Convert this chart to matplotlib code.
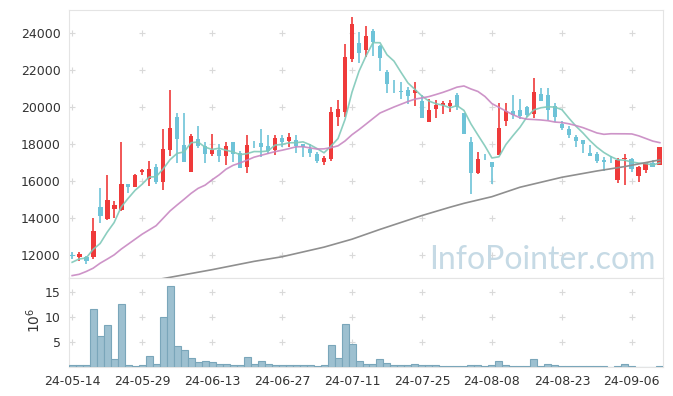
import matplotlib
matplotlib.use("Agg")
import matplotlib.pyplot as plt
import numpy as np
import pandas as pd

# daily prices, 85 trading days from 24-05-14
opens = [12020, 11860, 11890, 11870, 14600, 13960, 14470, 14450, 15840, 15700,
         16460, 16130, 16740, 15960, 17690, 19480, 17950, 16500, 18270, 17910,
         17460, 17680, 17370, 18110, 17500, 16780, 17960, 18040, 17890, 17680,
         18320, 18180, 18220, 18000, 17730, 17460, 17010, 17170, 19480, 19750,
         22590, 23440, 23080, 24110, 23320, 21910, 21200, 20840, 20920, 20740,
         20320, 19210, 19890, 20110, 20070, 20650, 19660, 18110, 16450, 17290,
         17030, 17420, 19260, 19780, 19840, 19980, 19600, 20680, 20650, 20050,
         19080, 18810, 18380, 18220, 17510, 17460, 17140, 17090, 16050, 17170,
         17170, 16290, 16600, 16990, 16860]
highs = [12180, 12160, 11950, 13980, 15600, 16300, 14920, 18100, 15850, 16380,
         16650, 17080, 16920, 18800, 20900, 19700, 19700, 18520, 19000, 18130,
         18520, 17980, 18120, 18110, 17600, 18490, 18160, 18800, 18490, 18490,
         18480, 18600, 18490, 18000, 18000, 17550, 17350, 19980, 20400, 23400,
         24850, 24040, 24400, 24220, 23350, 22000, 21460, 21370, 21100, 21370,
         20650, 20410, 20380, 20300, 20380, 20770, 19660, 18400, 17550, 17460,
         17030, 20230, 20200, 20630, 20420, 20050, 21550, 21010, 21010, 20230,
         19260, 18970, 18490, 18220, 17920, 17550, 17280, 17370, 17230, 17460,
         17230, 16830, 16990, 17120, 17860]
lows = [11800, 11650, 11530, 11780, 13700, 13890, 13980, 14400, 15330, 15690,
        16300, 15750, 15820, 15500, 17350, 16960, 17050, 16500, 17770, 16960,
        17370, 17050, 16860, 17050, 16700, 16420, 17770, 17310, 17460, 17400,
        17860, 17860, 17530, 17310, 17310, 16950, 16860, 17100, 18970, 19480,
        22450, 22360, 22690, 22770, 21960, 20770, 20770, 20410, 20160, 20050,
        19420, 19210, 19390, 19650, 19750, 19840, 18540, 15300, 16380, 17140,
        15840, 17420, 18970, 19330, 19330, 19480, 19390, 20300, 19300, 19210,
        18760, 18310, 17820, 17500, 17370, 16950, 16560, 16990, 15910, 15780,
        16470, 15930, 16450, 16740, 16860]
closes = [11930, 12070, 11650, 13300, 14130, 14970, 14700, 15840, 15650, 16320,
          16600, 16650, 15930, 17730, 18860, 18290, 17050, 18430, 17910, 17460,
          17680, 17370, 17890, 17460, 16720, 17950, 17940, 17860, 17640, 18320,
          18120, 18390, 17890, 17860, 17530, 17100, 17240, 19710, 19890, 22690,
          24490, 22900, 23840, 23500, 22670, 21230, 21180, 20820, 20610, 20920,
          19420, 19840, 20110, 20200, 20220, 20020, 18540, 16450, 17190, 17270,
          16770, 18860, 19780, 19570, 19530, 19570, 20790, 20340, 19840, 19440,
          18880, 18500, 18180, 18000, 17370, 17100, 17050, 17070, 17140, 17240,
          16630, 16740, 16960, 16740, 17860]
# volume in millions of shares
volumes = [0.5, 0.5, 0.33, 11.7, 6.3, 8.5, 1.7, 12.7, 0.5, 0.3,
           0.5, 2.3, 0.7, 10.1, 16.2, 4.3, 3.5, 1.9, 1.0, 1.2,
           1.0, 0.6, 0.7, 0.5, 0.5, 2.1, 0.7, 1.2, 0.7, 0.5,
           0.4, 0.5, 0.5, 0.35, 0.35, 0.2, 0.35, 4.5, 1.9, 8.6,
           4.6, 1.2, 0.7, 0.7, 1.7, 0.9, 0.35, 0.35, 0.5, 0.7,
           0.35, 0.35, 0.35, 0.15, 0.15, 0.15, 0.15, 0.5, 0.35, 0.15,
           0.5, 1.2, 0.35, 0.15, 0.15, 0.15, 1.6, 0.15, 0.7, 0.35,
           0.15, 0.15, 0.15, 0.15, 0.15, 0.15, 0.15, 0.05, 0.15, 0.6,
           0.15, 0.05, 0.05, 0.05, 0.15]

# moving average values before enough history exists in this window
ma5_head = [11600, 11780, 11830, 12300]
ma20_head = [10880, 10950, 11100, 11280, 11550, 11770, 12000, 12310, 12580, 12850,
             13120, 13350, 13580, 13980, 14380, 14700, 15010, 15330, 15600]
# long moving average
long_ma_idx = [12, 20, 26, 30, 36, 40, 44, 50, 54, 56, 60, 64, 70, 75, 79, 84]
long_ma_val = [10650, 11200, 11650, 11900, 12420, 12850, 13380, 14130, 14580,
               14790, 15150, 15660, 16200, 16540, 16780, 17140]

tick_labels = ["24-05-14", "24-05-29", "24-06-13", "24-06-27", "24-07-11",
               "24-07-25", "24-08-08", "24-08-23", "24-09-06"]

UP = "#ef3a3a"
DOWN = "#6ec3d8"
GRID = "#d9d9d9"
SPINE = "#e4e4e4"

plt.rcParams["font.family"] = ["DejaVu Sans"]
plt.rcParams["font.size"] = 9

o = np.array(opens, dtype=float)
h = np.array(highs, dtype=float)
l = np.array(lows, dtype=float)
c = np.array(closes, dtype=float)
x = np.arange(len(c))

s = pd.Series(c)
ma5 = s.rolling(5).mean().to_numpy()
ma5[:4] = ma5_head
ma20 = s.rolling(20).mean().to_numpy()
ma20[:19] = ma20_head

fig = plt.figure(figsize=(6.73, 3.96), dpi=100)
ax = fig.add_axes([69 / 673, 1 - 278 / 396, 594 / 673, 268 / 396])
axv = fig.add_axes([69 / 673, 1 - 367 / 396, 594 / 673, 89 / 396], sharex=ax)

colors = np.where(c >= o, UP, DOWN)
body_lo = np.minimum(o, c)
body_h = np.maximum(np.abs(c - o), 30)
ax.vlines(x, l, h, colors=colors, linewidth=1.2, zorder=3)
ax.bar(x, body_h, bottom=body_lo, width=0.68, color=colors, linewidth=0, zorder=4)

ax.plot(x, ma5, color="#80c9b9", linewidth=1.2, alpha=0.9, zorder=5)
ax.plot(x, ma20, color="#c888c2", linewidth=1.2, alpha=0.9, zorder=5)
ax.plot(long_ma_idx, long_ma_val, color="#8f8f8f", linewidth=1.2, zorder=5)

axv.bar(x, volumes, width=1.0, color="#9dc0d0", edgecolor="#7aa6ba",
        linewidth=0.8, zorder=3)

xt = np.arange(0, len(c), 10)[:len(tick_labels)]
yt = np.arange(12000, 24001, 2000)
vt = [5, 10, 15]

for a, ys in ((ax, yt), (axv, vt)):
    gx, gy = np.meshgrid(xt, ys)
    a.plot(gx.ravel(), gy.ravel(), linestyle="none", marker="+",
           markersize=5, markeredgewidth=0.8, color=GRID, zorder=1)
    for sp in a.spines.values():
        sp.set_color(SPINE)
    a.tick_params(length=0, colors="#333333", labelsize=9)

ax.set_xlim(-0.45, len(c) - 0.55)
ax.set_ylim(10750, 25250)
ax.set_yticks(yt)
ax.tick_params(labelbottom=False, pad=6)

axv.set_ylim(0, 17.8)
axv.set_yticks(vt)
axv.set_xticks(xt)
axv.set_xticklabels(tick_labels)
axv.tick_params(pad=6)
fig.text(34 / 673, 1 - 320 / 396, r"$10^{6}$", rotation=90,
         ha="center", va="center", fontsize=10, color="#333333")

ax.text(0.987, 0.035, "InfoPointer.com", transform=ax.transAxes,
        ha="right", va="baseline", fontsize=23, family="Lato",
        color="#c6dae5", zorder=2)

fig.savefig("out.png", dpi=100)
